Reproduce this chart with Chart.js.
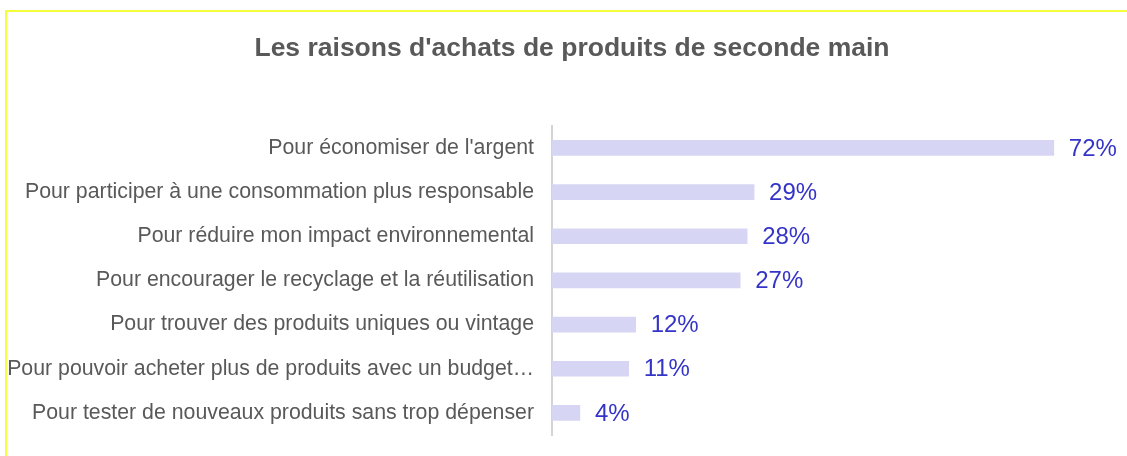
<!DOCTYPE html>
<html>
<head>
<meta charset="utf-8">
<script src="https://cdn.jsdelivr.net/npm/chart.js@4/dist/chart.umd.min.js"></script>
<style>
  html, body { margin: 0; padding: 0; background: #fff; }
  #frame {
    position: absolute; left: 5px; top: 10px; width: 1200px; height: 500px;
    border-top: 2px solid #f2ff3a; border-left: 2px solid #f2ff3a;
  }
  #wrap { position: absolute; left: 0; top: 0; width: 1127px; height: 456px; }
</style>
</head>
<body>
<div id="frame"></div>
<div id="wrap"><canvas id="chart"></canvas></div>
<script>
const reasons = [
  "Pour économiser de l'argent",
  "Pour participer à une consommation plus responsable",
  "Pour réduire mon impact environnemental",
  "Pour encourager le recyclage et la réutilisation",
  "Pour trouver des produits uniques ou vintage",
  "Pour pouvoir acheter plus de produits avec un budget…",
  "Pour tester de nouveaux produits sans trop dépenser"
];
const shares = [72, 29, 28, 27, 12, 11, 4];

const font = "'Liberation Sans', Arial, sans-serif";

const valueLabels = {
  id: "valueLabels",
  afterDatasetsDraw(chart) {
    const ctx = chart.ctx;
    const meta = chart.getDatasetMeta(0);
    ctx.save();
    ctx.font = "24px " + font;
    ctx.fillStyle = "#3434c8";
    ctx.textAlign = "left";
    ctx.textBaseline = "middle";
    meta.data.forEach((bar, i) => {
      ctx.fillText(shares[i] + "%", bar.x + 15, bar.y + 1);
    });
    ctx.restore();
  }
};

new Chart("chart", {
  type: "bar",
  data: {
    labels: reasons,
    datasets: [{
      data: shares,
      backgroundColor: "#d6d6f4",
      barThickness: 15
    }]
  },
  options: {
    indexAxis: "y",
    responsive: true,
    maintainAspectRatio: false,
    animation: false,
    layout: { padding: { top: 33, right: -17, bottom: 21, left: 0 } },
    plugins: {
      legend: { display: false },
      tooltip: { enabled: false },
      title: {
        display: true,
        text: "Les raisons d'achats de produits de seconde main",
        color: "#595959",
        font: { family: font, size: 26.5, weight: "bold" },
        padding: { top: 0, bottom: 61 }
      }
    },
    scales: {
      x: {
        display: false,
        min: 0,
        max: 82.5
      },
      y: {
        afterFit(scale) {
          scale.width = 552;
          scale.paddingTop = 0;
          scale.paddingBottom = 0;
        },
        grid: { display: false, drawTicks: false },
        border: { display: true, color: "#d4d4d4", width: 2 },
        ticks: {
          color: "#595959",
          padding: 18,
          font: { family: font, size: 21.3 }
        }
      }
    }
  },
  plugins: [valueLabels]
});
</script>
</body>
</html>
